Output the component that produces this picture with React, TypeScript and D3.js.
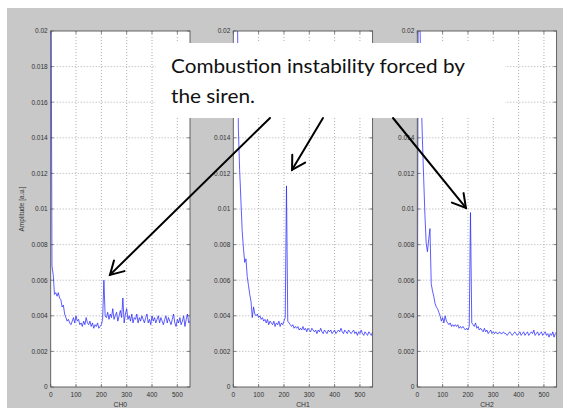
import React from "react";
import * as d3 from "d3";

// ---------- data ----------
const freqStep = 5;
const freqs = d3.range(0, 551, freqStep);

const ch0Amp = [
  0.03, 0.0068, 0.0063, 0.0052, 0.0053, 0.0051, 0.0053, 0.0050, 0.0049, 0.0045,
  0.0046, 0.0041, 0.0039, 0.0037, 0.0038, 0.0036, 0.0035, 0.0037, 0.0039, 0.0036,
  0.0040, 0.0037, 0.0038, 0.0035, 0.0036, 0.0034, 0.0037, 0.0035, 0.0039, 0.0036,
  0.0035, 0.0037, 0.0034, 0.0036, 0.0033, 0.0035, 0.0034, 0.0036, 0.0033, 0.0034,
  0.0035, 0.0038, 0.0060, 0.0040, 0.0039, 0.0042, 0.0038, 0.0041, 0.0039, 0.0044,
  0.0038, 0.0040, 0.0042, 0.0037, 0.0040, 0.0043, 0.0039, 0.0050, 0.0036, 0.0041,
  0.0044, 0.0038, 0.0040, 0.0037, 0.0041, 0.0036, 0.0039, 0.0038, 0.0041, 0.0036,
  0.0039, 0.0037, 0.0040, 0.0038, 0.0036, 0.0039, 0.0041, 0.0036, 0.0038, 0.0035,
  0.0040, 0.0037, 0.0039, 0.0036, 0.0038, 0.0040, 0.0036, 0.0039, 0.0037, 0.0035,
  0.0038, 0.0040, 0.0036, 0.0039, 0.0037, 0.0035, 0.0038, 0.0041, 0.0036, 0.0034,
  0.0038, 0.0036, 0.0039, 0.0035, 0.0037, 0.0040, 0.0034, 0.0038, 0.0041, 0.0036,
  0.0037,
];

const ch1Amp = [
  0.03, 0.03, 0.03, 0.024, 0.0145, 0.0122, 0.0105, 0.0088, 0.0078, 0.0070,
  0.0072, 0.0062, 0.0057, 0.0052, 0.0048, 0.0039, 0.0045, 0.0041, 0.0040, 0.0041,
  0.0039, 0.0040, 0.0038, 0.0039, 0.0037, 0.0038, 0.0036, 0.0038, 0.0035, 0.0037,
  0.0036, 0.0035, 0.0037, 0.0034, 0.0036, 0.0035, 0.0037, 0.0034, 0.0036, 0.0035,
  0.0037, 0.0039, 0.0113, 0.0037, 0.0036, 0.0035, 0.0034, 0.0035, 0.0033, 0.0034,
  0.0033, 0.0034, 0.0032, 0.0033, 0.0032, 0.0034, 0.0032, 0.0033, 0.0031, 0.0033,
  0.0032, 0.0031, 0.0033, 0.0032, 0.0031, 0.0032, 0.0030, 0.0032, 0.0031, 0.0033,
  0.0031, 0.0030, 0.0032, 0.0031, 0.0030, 0.0032, 0.0031, 0.0032, 0.0030, 0.0031,
  0.0032, 0.0030, 0.0031, 0.0032, 0.0031, 0.0033, 0.0031, 0.0030, 0.0032, 0.0031,
  0.0030, 0.0032, 0.0031, 0.0030, 0.0031, 0.0032, 0.0030, 0.0031, 0.0029, 0.0031,
  0.0030, 0.0032, 0.0030, 0.0029, 0.0031, 0.0030, 0.0029, 0.0031, 0.0030, 0.0029,
  0.0031,
];

const ch2Amp = [
  0.0, 0.03, 0.021, 0.0165, 0.0140, 0.0118, 0.0097, 0.0081, 0.0076, 0.0083,
  0.0089, 0.0058, 0.0054, 0.0051, 0.0047, 0.0045, 0.0044, 0.0042, 0.0040, 0.0037,
  0.0039, 0.0036, 0.0040, 0.0037, 0.0036, 0.0035, 0.0036, 0.0034, 0.0035, 0.0034,
  0.0035, 0.0034, 0.0035, 0.0033, 0.0034, 0.0033, 0.0034, 0.0033, 0.0032, 0.0033,
  0.0032, 0.0034, 0.0098, 0.0036, 0.0035, 0.0034, 0.0036, 0.0033, 0.0034, 0.0032,
  0.0033, 0.0032, 0.0031, 0.0033, 0.0031, 0.0032, 0.0030, 0.0031, 0.0032, 0.0030,
  0.0031, 0.0030, 0.0031, 0.0030, 0.0030, 0.0031, 0.0030, 0.0030, 0.0031, 0.0030,
  0.0030, 0.0029, 0.0030, 0.0031, 0.0030, 0.0029, 0.0030, 0.0031, 0.0030, 0.0029,
  0.0030, 0.0031, 0.0029, 0.0030, 0.0031, 0.0029, 0.0030, 0.0031, 0.0029, 0.0030,
  0.0031, 0.0030, 0.0032, 0.0029, 0.0030, 0.0031, 0.0029, 0.0030, 0.0031, 0.0029,
  0.0030, 0.0031, 0.0029, 0.0030, 0.0028, 0.0030, 0.0029, 0.0031, 0.0028, 0.0030,
  0.0031,
];

const channelNames = ["CH0", "CH1", "CH2"];
const channelAmps = [ch0Amp, ch1Amp, ch2Amp];
const xTicks = [0, 100, 200, 300, 400, 500];
const yTicks = [0, 0.002, 0.004, 0.006, 0.008, 0.01, 0.012, 0.014, 0.016, 0.018, 0.02];
const yTickLabels = ["0", "0.002", "0.004", "0.006", "0.008", "0.01", "0.012", "0.014", "0.016", "0.018", "0.02"];
const yAxisTitle = "Amplitude [a.u.]";
const noteLines = ["Combustion instability forced by", "the siren."];
// arrow targets: [panel, frequency, amplitude]
const arrowPanel = [0, 1, 2];
const arrowFreq = [234, 232, 192];
const arrowAmp = [0.0063, 0.0122, 0.01006];

// ---------- layout ----------
const W = 563;
const H = 409;
const panelLefts = [50.7, 233.3, 417.3];
const panelW = 139.3;
const plotTop = 31;
const plotBottom = 387;
const box = { x: 156, y: 43, w: 349, h: 75 };
const arrowStartX = [270, 323, 393];

const tickFont = "'Liberation Sans', Arial, sans-serif";

function underBox(px: number, py: number) {
  return px > box.x && px < box.x + box.w + 20 && py > box.y && py < box.y + box.h;
}

export default function App() {
  const y = d3.scaleLinear().domain([0, 0.02]).range([plotBottom, plotTop]);
  const xs = panelLefts.map((l) => d3.scaleLinear().domain([0, 550]).range([l, l + panelW]));

  return (
    <svg
      width={W}
      height={H}
      style={{ position: "absolute", left: 0, top: 0, background: "#fff" }}
    >
      <defs>
        {panelLefts.map((l, i) => (
          <clipPath id={`clip${i}`} key={i}>
            <rect x={l} y={plotTop} width={panelW} height={plotBottom - plotTop} />
          </clipPath>
        ))}
      </defs>
      <rect x={7} y={8} width={556} height={400} fill="#c8c8c8" />

      {channelAmps.map((amps, i) => {
        const x = xs[i];
        const line = d3
          .line<number>()
          .x((_, k) => x(freqs[k]))
          .y((d) => y(d));
        const l = panelLefts[i];
        const r = l + panelW;
        return (
          <g key={i}>
            <rect x={l} y={plotTop} width={panelW} height={plotBottom - plotTop} fill="#fff" />
            {/* grid */}
            {xTicks.slice(1).map((t) => (
              <line
                key={"gx" + t}
                x1={x(t)}
                x2={x(t)}
                y1={plotTop}
                y2={plotBottom}
                stroke="#9a9a9a"
                strokeWidth={0.8}
                strokeDasharray="1,2"
              />
            ))}
            {yTicks.slice(1, -1).map((t) => (
              <line
                key={"gy" + t}
                x1={l}
                x2={r}
                y1={y(t)}
                y2={y(t)}
                stroke="#9a9a9a"
                strokeWidth={0.8}
                strokeDasharray="1,2"
              />
            ))}
            {/* tick marks */}
            {xTicks.map((t) => (
              <g key={"tx" + t}>
                <line x1={x(t)} x2={x(t)} y1={plotBottom} y2={plotBottom - 3} stroke="#555" strokeWidth={0.7} />
                <line x1={x(t)} x2={x(t)} y1={plotTop} y2={plotTop + 3} stroke="#555" strokeWidth={0.7} />
              </g>
            ))}
            {yTicks.map((t) => (
              <g key={"ty" + t}>
                <line x1={l} x2={l + 3} y1={y(t)} y2={y(t)} stroke="#555" strokeWidth={0.7} />
                <line x1={r} x2={r - 3} y1={y(t)} y2={y(t)} stroke="#555" strokeWidth={0.7} />
              </g>
            ))}
            {/* data */}
            <path
              d={line(amps) || ""}
              fill="none"
              stroke="#2a2aff"
              strokeOpacity={0.85}
              strokeWidth={0.9}
              strokeLinejoin="round"
              clipPath={`url(#clip${i})`}
            />
            <rect
              x={l}
              y={plotTop}
              width={panelW}
              height={plotBottom - plotTop}
              fill="none"
              stroke="#555"
              strokeWidth={0.9}
            />
            {/* tick labels */}
            {xTicks.map((t) => (
              <text
                key={"lx" + t}
                x={x(t)}
                y={396.5}
                textAnchor="middle"
                fontFamily={tickFont}
                fontSize={6.5}
                fill="#333"
              >
                {t}
              </text>
            ))}
            {yTicks.map((t, k) =>
              underBox(l - 3, y(t)) ? null : (
                <text
                  key={"ly" + t}
                  x={l - 3}
                  y={y(t) + 2.3}
                  textAnchor="end"
                  fontFamily={tickFont}
                  fontSize={6.5}
                  fill="#333"
                >
                  {yTickLabels[k]}
                </text>
              )
            )}
            <text
              x={(l + r) / 2}
              y={406.5}
              textAnchor="middle"
              fontFamily={tickFont}
              fontSize={6.8}
              fill="#333"
            >
              {channelNames[i]}
            </text>
          </g>
        );
      })}

      <text
        transform={`translate(24,${(plotTop + plotBottom) / 2}) rotate(-90)`}
        textAnchor="middle"
        fontFamily={tickFont}
        fontSize={6.5}
        fill="#333"
      >
        {yAxisTitle}
      </text>

      {/* annotation */}
      <rect x={box.x} y={box.y} width={box.w} height={box.h} fill="#fff" />
      <text
        x={171}
        y={73}
        fontFamily="Lato, 'Open Sans', sans-serif"
        fontSize={20}
        fill="#111"
        textLength={294}
        lengthAdjust="spacingAndGlyphs"
      >
        {noteLines[0]}
      </text>
      <text
        x={171}
        y={103}
        fontFamily="Lato, 'Open Sans', sans-serif"
        fontSize={20}
        fill="#111"
        textLength={84}
        lengthAdjust="spacingAndGlyphs"
      >
        {noteLines[1]}
      </text>

      {arrowPanel.map((p, i) => {
        const tx = xs[p](arrowFreq[i]);
        const ty = y(arrowAmp[i]);
        const sx = arrowStartX[i];
        const sy = box.y + box.h;
        const ang = Math.atan2(sy - ty, sx - tx);
        const len = 15;
        const spread = (30 * Math.PI) / 180;
        const a1 = [tx + len * Math.cos(ang + spread), ty + len * Math.sin(ang + spread)];
        const a2 = [tx + len * Math.cos(ang - spread), ty + len * Math.sin(ang - spread)];
        return (
          <g key={"arr" + i} stroke="#000" strokeWidth={2} strokeLinecap="round" fill="none">
            <line x1={sx} y1={sy} x2={tx} y2={ty} />
            <polyline points={`${a1[0]},${a1[1]} ${tx},${ty} ${a2[0]},${a2[1]}`} strokeLinejoin="miter" />
          </g>
        );
      })}
    </svg>
  );
}
